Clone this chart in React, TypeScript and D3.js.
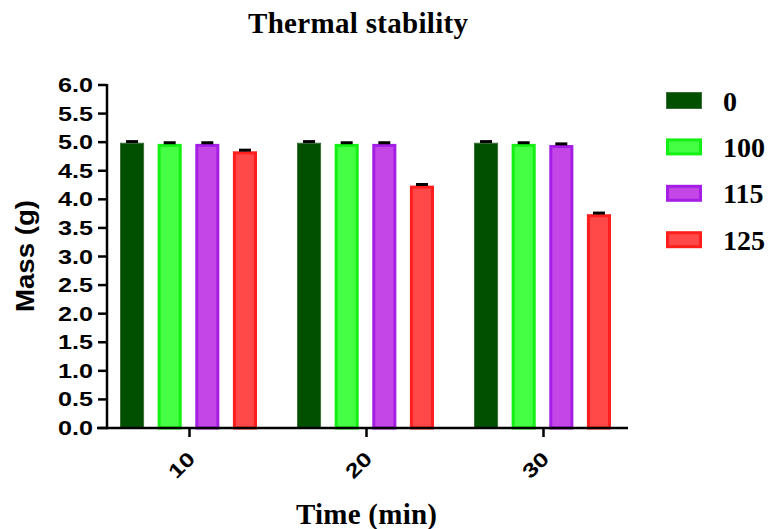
import React from "react";
import * as d3 from "d3";

const title = "Thermal stability";
const xTitle = "Time (min)";
const yTitle = "Mass (g)";
const categories = ["10", "20", "30"];
const seriesNames = ["0", "100", "115", "125"];
const values0 = [4.99, 4.99, 4.99];
const values100 = [4.97, 4.97, 4.97];
const values115 = [4.97, 4.97, 4.95];
const values125 = [4.84, 4.24, 3.74];
const errors0 = [0.02, 0.02, 0.02];
const errors100 = [0.02, 0.02, 0.02];
const errors115 = [0.02, 0.02, 0.02];
const errors125 = [0.02, 0.02, 0.02];
const yTicks = [0, 0.5, 1, 1.5, 2, 2.5, 3, 3.5, 4, 4.5, 5, 5.5, 6];

const seriesValues = [values0, values100, values115, values125];
const seriesErrors = [errors0, errors100, errors115, errors125];
const fills = ["#005000", "#44ff44", "#c446e6", "#ff4848"];
const strokes = ["#3a703a", "#14f014", "#a41ee4", "#ff1e1e"];
const strokeWidths = [1, 3, 3, 3];

const SANS = "'Liberation Sans', Arial, sans-serif";
const SERIF = "'Liberation Serif', 'Times New Roman', serif";

export default function App() {
  const W = 771;
  const H = 529;
  const y = d3.scaleLinear().domain([0, 6]).range([428, 85]);
  const x = d3.scaleBand<string>().domain(categories).range([101, 632]).padding(0);
  const xi = d3.scaleBand<string>().domain(seriesNames).range([19, 156]).paddingInner(0.36).paddingOuter(0);
  const axisLeft = 107;
  const axisRight = 628;

  return (
    <svg width={W} height={H} style={{ position: "absolute", left: 0, top: 0, background: "#fff" }}>
      <text x={358} y={33} textAnchor="middle" fontFamily={SERIF} fontWeight="bold" fontSize={29} textLength={220} lengthAdjust="spacing">
        {title}
      </text>

      {/* bars */}
      {categories.map((c, ci) =>
        seriesNames.map((s, si) => {
          const v = seriesValues[si][ci];
          const e = seriesErrors[si][ci];
          const sw = strokeWidths[si];
          const bx = (x(c) as number) + (xi(s) as number);
          const bw = xi.bandwidth();
          const top = y(v);
          const cx = bx + bw / 2;
          return (
            <g key={c + s}>
              <rect
                x={bx + sw / 2}
                y={top + sw / 2}
                width={bw - sw}
                height={y(0) - top - sw / 2}
                fill={fills[si]}
                stroke={strokes[si]}
                strokeWidth={sw}
              />
              <line x1={cx} x2={cx} y1={top} y2={y(v + e)} stroke="#000" strokeWidth={2} />
              <line x1={cx - 6} x2={cx + 6} y1={y(v + e)} y2={y(v + e)} stroke="#000" strokeWidth={3} />
            </g>
          );
        })
      )}

      {/* y axis */}
      <line x1={axisLeft} x2={axisLeft} y1={y(6) - 1} y2={y(0) + 1.25} stroke="#000" strokeWidth={2.5} />
      {yTicks.map((t) => (
        <g key={t}>
          <line x1={98} x2={axisLeft} y1={y(t)} y2={y(t)} stroke="#000" strokeWidth={2.5} />
          <text
            x={93}
            y={y(t)}
            textAnchor="end"
            dominantBaseline="central"
            fontFamily={SANS}
            fontWeight="bold"
            fontSize={20}
            textLength={35}
            lengthAdjust="spacingAndGlyphs"
          >
            {t.toFixed(1)}
          </text>
        </g>
      ))}
      <text
        transform={`translate(25,256) rotate(-90)`}
        textAnchor="middle"
        dominantBaseline="central"
        fontFamily={SANS}
        fontWeight="bold"
        fontSize={25}
        textLength={112}
        lengthAdjust="spacingAndGlyphs"
      >
        {yTitle}
      </text>

      {/* x axis */}
      <line x1={97} x2={axisRight} y1={y(0)} y2={y(0)} stroke="#000" strokeWidth={2.5} />
      {categories.map((c) => {
        const cx = (x(c) as number) + x.bandwidth() / 2;
        return (
          <g key={c}>
            <line x1={cx} x2={cx} y1={y(0)} y2={y(0) + 9} stroke="#000" strokeWidth={2.5} />
            <text
              transform={`translate(${cx - 8},465) rotate(-45)`}
              textAnchor="middle"
              dominantBaseline="central"
              fontFamily={SANS}
              fontWeight="bold"
              fontSize={20}
              textLength={28}
              lengthAdjust="spacingAndGlyphs"
            >
              {c}
            </text>
          </g>
        );
      })}
      <text x={366.5} y={524} textAnchor="middle" fontFamily={SERIF} fontWeight="bold" fontSize={29} textLength={141} lengthAdjust="spacing">
        {xTitle}
      </text>

      {/* legend */}
      {seriesNames.map((s, si) => {
        const cy = 100.5 + si * 46.4;
        const sw = strokeWidths[si];
        return (
          <g key={s}>
            <rect
              x={666 + sw / 2}
              y={cy - 8.5 + sw / 2}
              width={36 - sw}
              height={17 - sw}
              fill={fills[si]}
              stroke={strokes[si]}
              strokeWidth={sw}
            />
            <text x={723} y={cy + 10} fontFamily={SERIF} fontWeight="bold" fontSize={28}>
              {s}
            </text>
          </g>
        );
      })}
    </svg>
  );
}
